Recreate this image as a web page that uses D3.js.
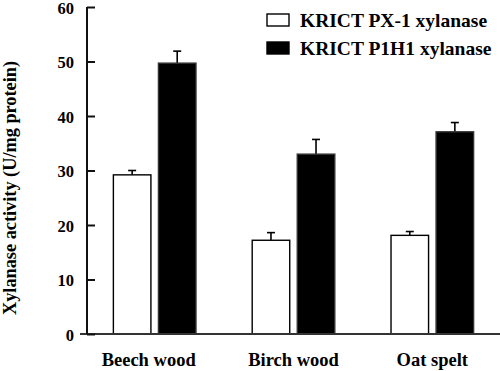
<!DOCTYPE html>
<html><head><meta charset="utf-8">
<script src="https://cdn.jsdelivr.net/npm/d3@7"></script>
<style>body{margin:0;background:#fff;}</style>
</head><body><svg id="c" width="500" height="371"></svg>
<script>
const categories = ["Beech wood", "Birch wood", "Oat spelt"];
const seriesNames = ["KRICT PX-1 xylanase", "KRICT P1H1 xylanase"];
const px1Values = [29.2, 17.2, 18.1];
const px1Errors = [0.8, 1.4, 0.7];
const p1h1Values = [49.7, 33.0, 37.1];
const p1h1Errors = [2.2, 2.7, 1.7];
const yTicks = [0, 10, 20, 30, 40, 50, 60];

const FONT = "'Liberation Serif'";
const svg = d3.select("#c");
const x0 = d3.scaleBand().domain(categories).range([87, 500]).paddingInner(0.405).paddingOuter(0.19);
const x1 = d3.scaleBand().domain(seriesNames).range([0, x0.bandwidth()]).paddingInner(0.167).paddingOuter(0);
const y = d3.scaleLinear().domain([0, 60]).range([334, 7]);
const fills = {[seriesNames[0]]: "#fff", [seriesNames[1]]: "#000"};

const data = [];
categories.forEach((c, i) => {
  data.push({cat: c, s: seriesNames[0], v: px1Values[i], e: px1Errors[i]});
  data.push({cat: c, s: seriesNames[1], v: p1h1Values[i], e: p1h1Errors[i]});
});

// error bars
const eb = svg.append("g");
data.forEach(d => {
  const cx = x0(d.cat) + x1(d.s) + x1.bandwidth() / 2;
  eb.append("line").attr("x1", cx).attr("x2", cx).attr("y1", y(d.v)).attr("y2", y(d.v + d.e)).attr("stroke", "#000").attr("stroke-width", 1.6);
  eb.append("line").attr("x1", cx - 4).attr("x2", cx + 4).attr("y1", y(d.v + d.e)).attr("y2", y(d.v + d.e)).attr("stroke", "#000").attr("stroke-width", 1.6);
});

// bars
svg.append("g").selectAll("rect").data(data).join("rect")
  .attr("x", d => x0(d.cat) + x1(d.s))
  .attr("y", d => y(d.v))
  .attr("width", x1.bandwidth())
  .attr("height", d => y(0) - y(d.v))
  .attr("fill", d => fills[d.s])
  .attr("stroke", d => d.s === seriesNames[0] ? "#000" : "#333")
  .attr("stroke-width", 1.4);

// x baseline
svg.append("line").attr("x1", 80).attr("x2", 500).attr("y1", y(0)).attr("y2", y(0)).attr("stroke", "#333").attr("stroke-width", 2);

// y axis
const yAxis = d3.axisRight(y).tickValues(yTicks).tickSize(8).tickFormat("");
const ga = svg.append("g").attr("transform", "translate(87,0)").call(yAxis);
ga.select(".domain").attr("d", `M0,${y(60)}V${y(0)}`).attr("stroke", "#111").attr("stroke-width", 2);
ga.selectAll(".tick line").attr("stroke", "#111").attr("stroke-width", 2);
svg.append("g").selectAll("text").data(yTicks).join("text")
  .attr("x", 74).attr("y", d => y(d)).attr("dy", "0.4em")
  .attr("text-anchor", "end").attr("font-size", 16.5).attr("font-weight", "bold").style("font-family", FONT).text(d => d);

// x labels
svg.append("g").selectAll("text").data(categories).join("text")
  .attr("x", d => x0(d) + x0.bandwidth() / 2 - (d === categories[0] ? 6 : 0))
  .attr("y", 366).attr("text-anchor", "middle").attr("font-size", 18.5).attr("font-weight", "bold").style("font-family", FONT).text(d => d);

// y title
svg.append("text").attr("transform", "translate(16,188) rotate(-90)")
  .attr("text-anchor", "middle").attr("font-size", 18.3).attr("font-weight", "bold").style("font-family", FONT)
  .text("Xylanase activity (U/mg protein)");

// legend
const lg = svg.append("g");
seriesNames.forEach((s, i) => {
  lg.append("rect").attr("x", 267).attr("y", 14 + i * 28).attr("width", 22).attr("height", 12)
    .attr("fill", fills[s]).attr("stroke", "#000").attr("stroke-width", 1.4);
  lg.append("text").attr("x", 300).attr("y", 27 + i * 27.5).attr("font-size", 19.5).attr("font-weight", "bold")
    .style("font-family", FONT).text(s);
});
</script></body></html>
